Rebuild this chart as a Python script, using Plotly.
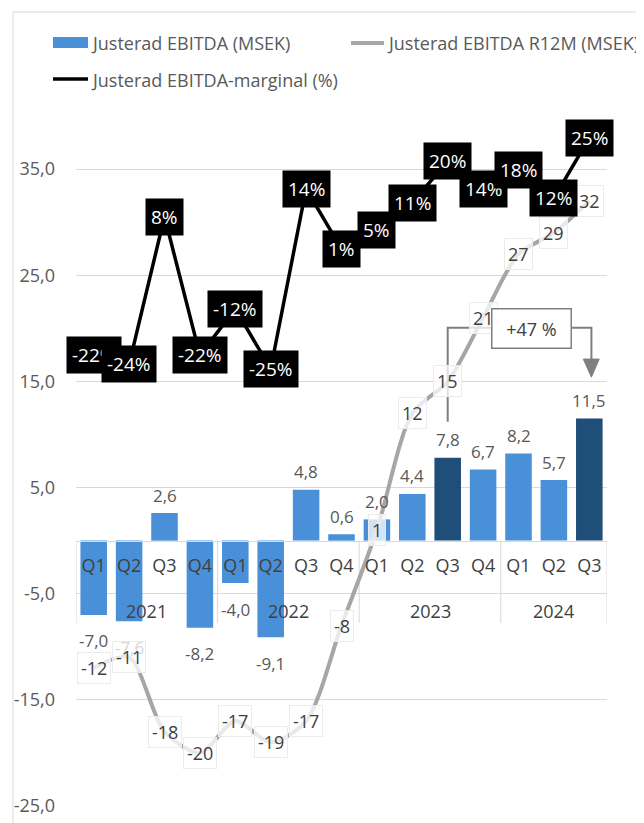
import plotly.graph_objects as go

# ---------------- data ----------------
years = ["2021"] * 4 + ["2022"] * 4 + ["2023"] * 4 + ["2024"] * 3
quarters = ["Q1", "Q2", "Q3", "Q4"] * 3 + ["Q1", "Q2", "Q3"]
ebitda = [-7.0, -7.6, 2.6, -8.2, -4.0, -9.1, 4.8, 0.6, 2.0, 4.4, 7.8, 6.7, 8.2, 5.7, 11.5]
ebitda_r12m = [-12, -11, -18, -20, -17, -19, -17, -8, 1, 12, 15, 21, 27, 29, 32]
margin_pct = [-22, -24, 8, -22, -12, -25, 14, 1, 5, 11, 20, 14, 18, 12, 25]
highlighted = [("2023", "Q3"), ("2024", "Q3")]
y_ticks = [-25, -15, -5, 5, 15, 25, 35]
callout_text = "+47 %"
legend_names = ["Justerad EBITDA (MSEK)", "Justerad EBITDA R12M (MSEK)", "Justerad EBITDA-marginal (%)"]

# ---------------- style ----------------
OFF = 8                      # page body margin
W, H = 644 - OFF, 823 - OFF
ML, MR, MT, MB = 68, 37, 108, 17
LIGHT = "#4A90D9"
DARK = "#1F4E79"
GRAY_LINE = "#A6A6A6"
TXT = "#595959"
TXT2 = "#404040"
GRID = "#D9D9D9"
CALL = "#7F7F7F"
FONT = "Open Sans"

Y_RANGE = [-25, 40]
Y2_RANGE = [-119.6, 29.76]

def fmt(v):
    return f"{v:.1f}".replace(".", ",")

def px_x(p):
    return (p - OFF - ML) / (W - ML - MR)

def px_y(p):
    return (H - MB - (p - OFF)) / (H - MT - MB)

n = len(quarters)
idx = list(range(n))
bar_colors = [DARK if (y, q) in highlighted else LIGHT for y, q in zip(years, quarters)]

fig = go.Figure()
fig.add_trace(go.Bar(
    x=idx, y=ebitda, marker=dict(color=bar_colors, line=dict(width=0)),
    name=legend_names[0], showlegend=False, hoverinfo="skip",
))
fig.add_trace(go.Scatter(
    x=idx, y=ebitda_r12m, mode="lines",
    line=dict(color=GRAY_LINE, width=4, shape="spline", smoothing=0.8),
    name=legend_names[1], showlegend=False, hoverinfo="skip",
))
fig.add_trace(go.Scatter(
    x=idx, y=margin_pct, yaxis="y2", mode="lines", line=dict(color="black", width=3.5),
    name=legend_names[2], showlegend=False, hoverinfo="skip",
))

annotations = []
shapes = []

# bar labels
for i, v in enumerate(ebitda):
    annotations.append(dict(
        x=i, y=v, xref="x", yref="y", text=fmt(v), showarrow=False,
        yshift=18 if v >= 0 else -26, font=dict(family=FONT, size=17, color=TXT),
    ))
# R12M labels
for i, v in enumerate(ebitda_r12m):
    annotations.append(dict(
        x=i, y=v, xref="x", yref="y", text=str(v), showarrow=False,
        font=dict(family=FONT, size=18, color=TXT2),
        bgcolor="rgba(255,255,255,0.75)", bordercolor="#EBEBEB", borderwidth=1, borderpad=3,
    ))
# margin labels
for i, v in enumerate(margin_pct):
    annotations.append(dict(
        x=i, y=v, xref="x", yref="y2", text=f"{v}%", showarrow=False,
        font=dict(family=FONT, size=19, color="white"),
        bgcolor="black", borderpad=5,
    ))

# year group labels + dividers
groups = []
for i, y in enumerate(years):
    if not groups or groups[-1][0] != y:
        groups.append([y, i, i])
    else:
        groups[-1][2] = i
for y, a, b in groups:
    annotations.append(dict(
        x=(a + b) / 2, y=px_y(611), xref="x", yref="paper", text=y, showarrow=False,
        font=dict(family=FONT, size=18, color=TXT2), yanchor="middle",
    ))
bounds = [groups[0][1] - 0.5] + [g[2] + 0.5 for g in groups]
for bx in bounds:
    shapes.append(dict(type="line", xref="x", yref="paper", x0=bx, x1=bx,
                       y0=px_y(623), y1=px_y(540.5), line=dict(color=GRID, width=1), layer="below"))

# callout "+47 %"
i_from = 10   # Q3 2023
i_to = n - 1  # Q3 2024
annotations.append(dict(
    x=12.38, y=19.95, xref="x", yref="y", text=callout_text, showarrow=False,
    font=dict(family=FONT, size=18, color=TXT2), bgcolor="white",
    bordercolor=CALL, borderwidth=1.5, borderpad=7, width=64,
))
shapes.append(dict(
    type="path", xref="x", yref="y", layer="above",
    path=f"M {i_from},{11.2} L {i_from},{20.05} L {11.25},{20.05}",
    line=dict(color=CALL, width=2),
))
shapes.append(dict(
    type="path", xref="x", yref="y", layer="above",
    path=f"M {13.5},{20.05} L {i_to + 0.06},{20.05} L {i_to + 0.06},{16.6}",
    line=dict(color=CALL, width=2),
))
shapes.append(dict(
    type="path", xref="x", yref="y", layer="above",
    path=f"M {i_to - 0.17},{17.1} L {i_to + 0.28},{17.1} L {i_to + 0.06},{15.4} Z",
    fillcolor=CALL, line=dict(color=CALL, width=1),
))

# chart border
shapes.append(dict(type="rect", xref="paper", yref="paper",
                   x0=px_x(13), x1=px_x(670), y0=px_y(850), y1=px_y(12),
                   line=dict(color="#D9D9D9", width=1), layer="below"))

# manual legend
shapes.append(dict(type="rect", xref="paper", yref="paper",
                   x0=px_x(53), x1=px_x(88), y0=px_y(48), y1=px_y(37),
                   fillcolor=LIGHT, line=dict(width=0)))
shapes.append(dict(type="line", xref="paper", yref="paper",
                   x0=px_x(351), x1=px_x(384), y0=px_y(43), y1=px_y(43),
                   line=dict(color=GRAY_LINE, width=4)))
shapes.append(dict(type="line", xref="paper", yref="paper",
                   x0=px_x(53), x1=px_x(88), y0=px_y(79), y1=px_y(79),
                   line=dict(color="black", width=3.5)))
for (tx, ty, t) in [(89, 43, legend_names[0]), (385, 43, legend_names[1]), (89, 80, legend_names[2])]:
    annotations.append(dict(x=px_x(tx), y=px_y(ty), xref="paper", yref="paper", text=t,
                            showarrow=False, xanchor="left", yanchor="middle",
                            font=dict(family=FONT, size=18, color=TXT)))

fig.update_layout(
    width=W, height=H,
    margin=dict(l=ML, r=MR, t=MT, b=MB, autoexpand=False),
    paper_bgcolor="white", plot_bgcolor="white",
    showlegend=False, bargap=0.25,
    font=dict(family=FONT, size=18, color=TXT),
    xaxis=dict(
        range=[-0.5, n - 0.5], tickvals=idx, ticktext=quarters,
        anchor="free", position=(0 - Y_RANGE[0]) / (Y_RANGE[1] - Y_RANGE[0]),
        showgrid=False, zeroline=False, showline=True, linecolor=GRID, linewidth=1,
        tickfont=dict(family=FONT, size=18, color=TXT2),
        ticks="", ticklabelstandoff=9,
    ),
    yaxis=dict(
        range=Y_RANGE, tickvals=y_ticks, ticktext=[fmt(v) for v in y_ticks],
        showgrid=True, gridcolor=GRID, gridwidth=1, zeroline=False,
        showline=False, ticks="", ticklabelstandoff=20,
        tickfont=dict(family=FONT, size=18, color=TXT),
    ),
    yaxis2=dict(range=Y2_RANGE, overlaying="y", visible=False, showgrid=False),
    annotations=annotations, shapes=shapes,
)

fig.write_html("out.html")
